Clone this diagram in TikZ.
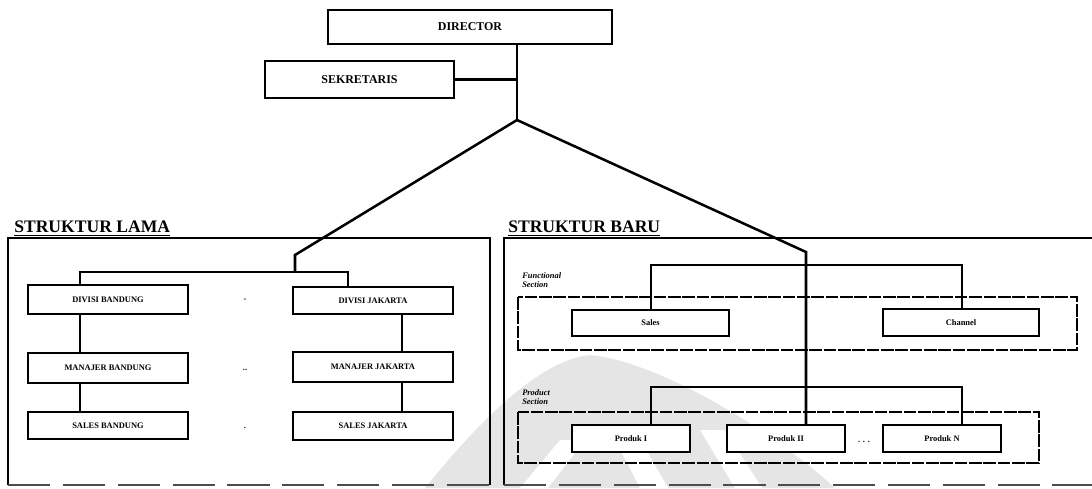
\documentclass[tikz,border=0pt]{standalone}
\usepackage{fontspec}
\setmainfont{Liberation Serif}
\usetikzlibrary{fit}

\tikzset{
  unit box/.style={draw=black, line width=1.6pt, inner sep=0pt, fill=white},
  unit text/.style={font=\fontsize{6}{7}\selectfont\bfseries},
  top text/.style={font=\fontsize{8.5}{10}\selectfont\bfseries},
  group frame/.style={draw=black, line width=1.2pt, dash pattern=on 9pt off 1.2pt},
  link/.style={draw=black, line width=1.8pt},
  outer edge/.style={draw=black, line width=1.8pt},
  loose edge/.style={draw=black!70, line width=1pt, dash pattern=on 30pt off 9pt},
  title/.style={font=\fontsize{12.5}{14}\selectfont\bfseries, anchor=south west, inner sep=0pt},
  section tag/.style={font=\fontsize{6}{6.5}\selectfont\bfseries\itshape, anchor=north west,
    align=left, inner sep=0pt},
  gap dots/.style={font=\fontsize{6}{7}\selectfont\bfseries, inner sep=0pt},
}

\begin{document}
\begin{tikzpicture}[x=0.025cm, y=-0.025cm]
\useasboundingbox (0,0) rectangle (1092,488);

% faint emblem in the background
\fill[black!10] (425,488) .. controls (480,420) and (540,360) .. (590,355)
  .. controls (650,360) and (760,420) .. (835,488) -- cycle;
\fill[white] (520,488) -- (560,440) -- (585,440) -- (548,488) -- cycle;
\fill[white] (640,488) -- (610,430) -- (635,430) -- (668,488) -- cycle;
\fill[white] (735,488) -- (700,430) -- (725,430) -- (762,488) -- cycle;

% top of the organisation
\node[unit box, fit={(328,10)(612,44)}, label={[top text]center:DIRECTOR}] (director) {};
\node[unit box, fit={(265,61)(454,98)}, label={[top text]center:SEKRETARIS}] (sekretaris) {};
\coordinate (apex) at (517,120);
\draw[link] (director.south -| apex) -- (apex);
\draw[link] (sekretaris.east) -- (sekretaris.east -| apex);

% old structure frame
\node[title] (lamaTitle) at (14,236) {\underline{STRUKTUR LAMA}};
\draw[outer edge] (8,485) -- (8,238) -- (490,238) -- (490,485);
\draw[loose edge] (8,485) -- (490,485);

% new structure frame
\node[title] (baruTitle) at (508,236) {\underline{STRUKTUR BARU}};
\draw[outer edge] (504,485) -- (504,238) -- (1096,238);
\draw[loose edge] (504,485) -- (1096,485);

% old structure: two regional columns
\node[unit box, fit={(28,285)(188,314)}, label={[unit text]center:DIVISI BANDUNG}] (l1) {};
\node[unit box, fit={(28,353)(188,383)}, label={[unit text]center:MANAJER BANDUNG}] (l2) {};
\node[unit box, fit={(28,412)(188,439)}, label={[unit text]center:SALES BANDUNG}] (l3) {};
\node[unit box, fit={(293,287)(453,314)}, label={[unit text]center:DIVISI JAKARTA}] (r1) {};
\node[unit box, fit={(293,352)(453,382)}, label={[unit text]center:MANAJER JAKARTA}] (r2) {};
\node[unit box, fit={(293,412)(453,440)}, label={[unit text]center:SALES JAKARTA}] (r3) {};
\node[gap dots] (ld1) at (245,300) {-};
\node[gap dots] (ld2) at (245,370) {..};
\node[gap dots] (ld3) at (245,428) {.};

\coordinate (c1) at (80,272);
\coordinate (c2) at (348,272);
\coordinate (c3) at (402,0);
\coordinate (lbend) at (295,255);
\draw[link] (apex) -- (lbend) -- (lbend |- c1);
\draw[link] (l1.north -| c1) -- (c1) -- (c2) -- (r1.north -| c2);
\draw[link] (l1.south -| c1) -- (l2.north -| c1);
\draw[link] (l2.south -| c1) -- (l3.north -| c1);
\draw[link] (r1.south -| c3) -- (r2.north -| c3);
\draw[link] (r2.south -| c3) -- (r3.north -| c3);

% new structure: functional section
\node[section tag] (funcTag) at (522,272) {Functional\\Section};
\draw[group frame] (518,297) rectangle (1077,350);
\node[unit box, fit={(572,310)(729,336)}, label={[unit text]center:Sales}] (sales) {};
\node[unit box, fit={(883,309)(1039,336)}, label={[unit text]center:Channel}] (channel) {};
\coordinate (fa) at (651,265);
\coordinate (fb) at (962,265);
\draw[link] (sales.north -| fa) -- (fa) -- (fb) -- (channel.north -| fb);

% new structure: product section
\node[section tag] (prodTag) at (522,389) {Product\\Section};
\draw[group frame] (518,412) rectangle (1039,463);
\node[unit box, fit={(572,425)(690,452)}, label={[unit text]center:Produk I}] (p1) {};
\node[unit box, fit={(727,425)(845,452)}, label={[unit text]center:Produk II}] (p2) {};
\node[unit box, fit={(883,425)(1001,452)}, label={[unit text]center:Produk N}] (pn) {};
\node[gap dots] (pdots) at (864,442) {. . .};
\coordinate (pa) at (651,387);
\coordinate (pb) at (962,387);
\draw[link] (p1.north -| pa) -- (pa) -- (pb) -- (pn.north -| pb);

% director line down into the new structure
\coordinate (rbend) at (806,252);
\draw[link] (apex) -- (rbend) -- (p2.north -| rbend);
\end{tikzpicture}
\end{document}
